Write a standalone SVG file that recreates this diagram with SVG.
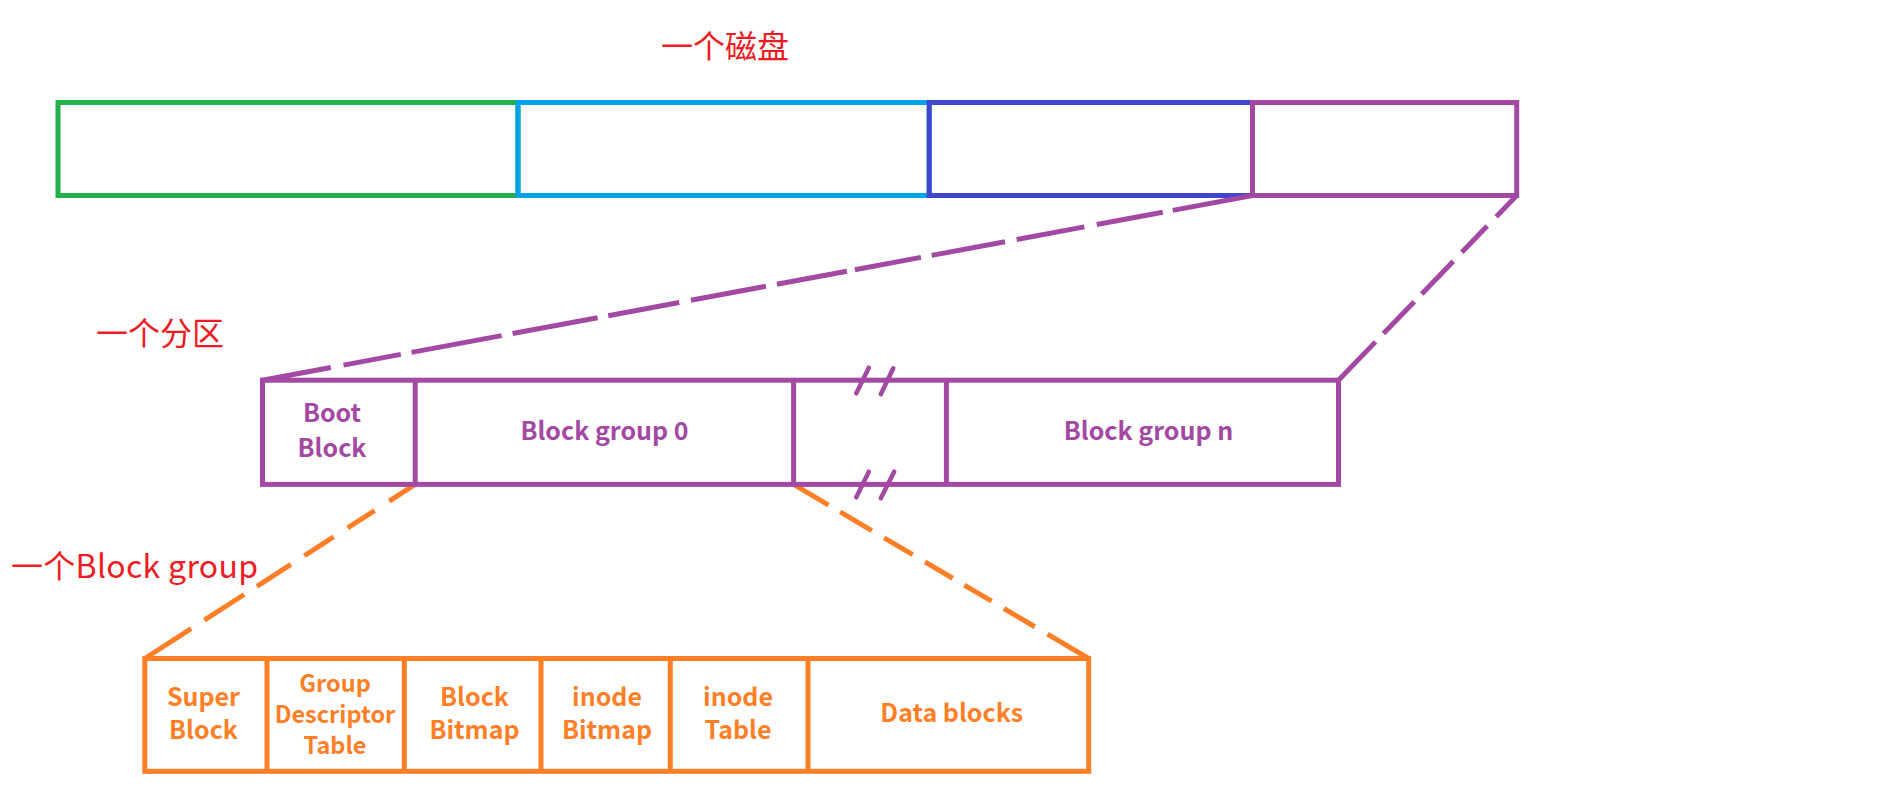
<svg xmlns="http://www.w3.org/2000/svg" width="1894" height="808" viewBox="0 0 1894 808">
<style>
.box{fill:none;stroke-width:5}
.g{stroke:#22b14c}.b{stroke:#00a2e8}.i{stroke:#3f48cc}.p{stroke:#a349a4}.o{stroke:#ff7f27}
.red{fill:#ed1c24;font-family:"Noto Sans CJK SC","Noto Sans",sans-serif;font-size:32px}
.lbl{font-family:"Noto Sans CJK SC","Noto Sans",sans-serif;font-weight:700;font-size:25px;text-anchor:middle}
.sm{font-size:23.5px}
.lp{fill:#a349a4}.lo{fill:#ff7f27}
.dash{fill:none;stroke-width:5;stroke-linecap:butt}
.brk{stroke:#a349a4;stroke-width:4.5;stroke-linecap:round}
</style>
<rect width="1894" height="808" fill="#ffffff"/>
<g id="labels">
<text class="red" x="725" y="58" text-anchor="middle">一个磁盘</text>
<text class="red" x="160" y="345" text-anchor="middle">一个分区</text>
<text class="red" x="11" y="578" textLength="247">一个Block group</text>
</g>
<g id="disk">
<rect id="disk-part1" class="box g" x="58" y="102.5" width="460" height="93"/>
<rect id="disk-part2" class="box b" x="518" y="102.5" width="411.2" height="93"/>
<rect id="disk-part3" class="box i" x="929.2" y="102.5" width="323.3" height="93"/>
<rect id="disk-part4" class="box p" x="1252.5" y="102.5" width="264.2" height="93"/>
</g>
<g id="connectors">
<path class="dash p" d="M262.5,380.2 L1252.5,195.5" stroke-dasharray="69.5 12.9 58.3 10.9 91.6 11.2 86.5 10.8 72.2 11.9 76.3 11.2 71.2 8.1 67.2 10.9 74.6 11.9 68.8 12.6 67.2 10.2 120"/>
<path class="dash p" d="M1516.7,195.5 L1338.5,380.2" stroke-dasharray="29.5 13 36.5 12.3 45.5 10.7 44.4 11.5 90"/>
<path class="dash o" d="M415.2,484.4 L144.8,658.5" stroke-dasharray="30.9 17.4 32.1 16.7 34.7 16.1 40.3 15.2 47.3 15.8 90"/>
<path class="dash o" d="M793.6,484.4 L1088.7,658.5" stroke-dasharray="40.6 13.5 36.7 14.3 33.2 14.3 32.1 13.5 31.7 14.3 35.9 14.7 90"/>
</g>
<g id="partition">
<rect class="box p" x="262.5" y="380.2" width="1076" height="104.2"/>
<g id="boot-block">
<line class="p" stroke-width="5" x1="415.2" y1="380.2" x2="415.2" y2="484.4"/>
<text class="lbl lp" x="332" y="422">Boot</text>
<text class="lbl lp" x="332" y="457">Block</text>
</g>
<g id="block-group-0">
<line class="p" stroke-width="5" x1="793.6" y1="380.2" x2="793.6" y2="484.4"/>
<text class="lbl lp" x="604.5" y="440">Block group 0</text>
</g>
<g id="gap">
<line class="brk" x1="856.3" y1="393.3" x2="868.8" y2="367.7"/>
<line class="brk" x1="880.8" y1="394.3" x2="893.3" y2="368.3"/>
<line class="brk" x1="856.3" y1="497.3" x2="868.8" y2="471.7"/>
<line class="brk" x1="880.8" y1="498.3" x2="894.2" y2="471.7"/>
<line class="p" stroke-width="5" x1="946.4" y1="380.2" x2="946.4" y2="484.4"/>
</g>
<g id="block-group-n">
<text class="lbl lp" x="1148.5" y="440">Block group n</text>
</g>
</g>
<g id="block-group">
<rect class="box o" x="144.8" y="658.5" width="943.9" height="112.8"/>
<g id="super-block">
<text class="lbl lo" x="203.5" y="706">Super</text>
<text class="lbl lo" x="203.5" y="739">Block</text>
</g>
<g id="gdt">
<line class="o" stroke-width="5" x1="267" y1="658.5" x2="267" y2="771.3"/>
<text class="lbl lo sm" x="335" y="692">Group</text>
<text class="lbl lo sm" x="335" y="723">Descriptor</text>
<text class="lbl lo sm" x="335" y="754">Table</text>
</g>
<g id="block-bitmap">
<line class="o" stroke-width="5" x1="404.3" y1="658.5" x2="404.3" y2="771.3"/>
<text class="lbl lo" x="474.5" y="706">Block</text>
<text class="lbl lo" x="474.5" y="739">Bitmap</text>
</g>
<g id="inode-bitmap">
<line class="o" stroke-width="5" x1="541" y1="658.5" x2="541" y2="771.3"/>
<text class="lbl lo" x="607" y="706">inode</text>
<text class="lbl lo" x="607" y="739">Bitmap</text>
</g>
<g id="inode-table">
<line class="o" stroke-width="5" x1="670.3" y1="658.5" x2="670.3" y2="771.3"/>
<text class="lbl lo" x="738" y="706">inode</text>
<text class="lbl lo" x="738" y="739">Table</text>
</g>
<g id="data-blocks">
<line class="o" stroke-width="5" x1="808" y1="658.5" x2="808" y2="771.3"/>
<text class="lbl lo" x="951.7" y="722">Data blocks</text>
</g>
</g>
</svg>
